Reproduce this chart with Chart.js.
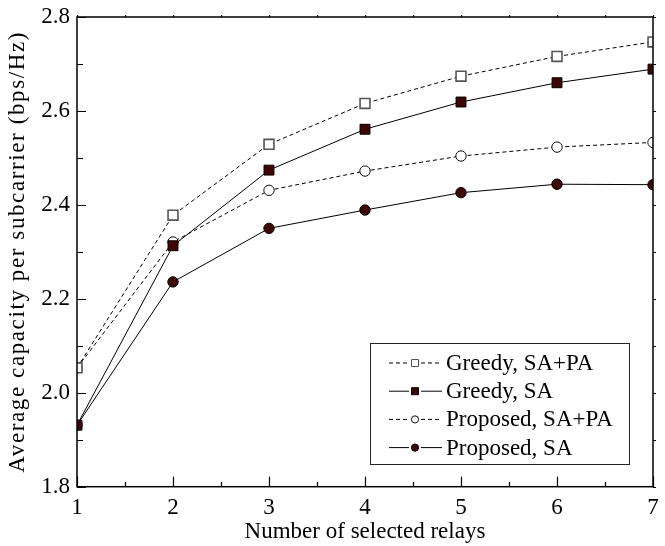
<!DOCTYPE html>
<html>
<head>
<meta charset="utf-8">
<script src="https://cdn.jsdelivr.net/npm/chart.js@4"></script>
<style>
    html, body { margin: 0; padding: 0; background: #fff; }
    #wrap { width: 665px; height: 546px; }
</style>
</head>
<body>
<div id="wrap"><canvas id="capChart" width="665" height="546"></canvas></div>
<script>
// Data
const relays = [1, 2, 3, 4, 5, 6, 7];
const greedySaPa = [2.053, 2.378, 2.529, 2.616, 2.674, 2.716, 2.747];
const greedySa = [1.931, 2.313, 2.474, 2.561, 2.619, 2.660, 2.689];
const proposedSaPa = [2.053, 2.321, 2.431, 2.472, 2.504, 2.523, 2.533];
const proposedSa = [1.931, 2.236, 2.350, 2.389, 2.426, 2.444, 2.443];
const seriesNames = ['Greedy, SA+PA', 'Greedy, SA', 'Proposed, SA+PA', 'Proposed, SA'];
const yTitle = 'Average capacity per subcarrier (bps/Hz)';

const serif = "'Liberation Serif', 'Times New Roman', serif";
const darkFill = '#3d0804';

function toPoints(ys) {
    return relays.map((x, i) => ({ x: x, y: ys[i] }));
}

// Inward ticks, frame, y title and the line+marker+line legend
const framePlugin = {
    id: 'frame',
    afterDraw(chart) {
        const ctx = chart.ctx;
        const { left, right, top, bottom } = chart.chartArea;
        const xs = chart.scales.x;
        const ys = chart.scales.y;
        ctx.save();
        ctx.strokeStyle = '#000';
        ctx.lineWidth = 1.5;
        ctx.strokeRect(left, top, right - left, bottom - top);

        ctx.lineWidth = 1.2;
        ctx.beginPath();
        for (let v = 1; v <= 7.001; v += 0.5) {
            const px = Math.round(xs.getPixelForValue(v)) + 0.5;
            const major = Math.abs(v - Math.round(v)) < 0.01;
            ctx.moveTo(px, bottom);
            ctx.lineTo(px, bottom - (major ? 10 : 5));
            ctx.moveTo(px, top);
            ctx.lineTo(px, top - 2);
        }
        for (let i = 0; i <= 10; i++) {
            const v = 1.8 + i * 0.1;
            const py = Math.round(ys.getPixelForValue(v)) + 0.5;
            const major = i % 2 === 0;
            ctx.moveTo(left, py);
            ctx.lineTo(left + (major ? 9 : 6), py);
            ctx.moveTo(right, py);
            ctx.lineTo(right + 3, py);
        }
        ctx.stroke();

        // y axis title, spaced out like the original
        ctx.save();
        ctx.translate(18, (top + bottom) / 2);
        ctx.rotate(-Math.PI / 2);
        ctx.font = '23px ' + serif;
        ctx.letterSpacing = '1.6px';
        ctx.fillStyle = '#000';
        ctx.textAlign = 'center';
        ctx.textBaseline = 'middle';
        ctx.fillText(yTitle, 0, 0);
        ctx.restore();

        // legend box
        const lx = 370, ly = 343, lw = 259, lh = 121;
        ctx.fillStyle = '#fff';
        ctx.fillRect(lx, ly, lw, lh);
        ctx.lineWidth = 1;
        ctx.strokeStyle = '#222';
        ctx.strokeRect(lx + 0.5, ly + 0.5, lw, lh);

        ctx.font = '23px ' + serif;
        ctx.textBaseline = 'middle';
        chart.data.datasets.forEach((ds, i) => {
            const cy = 363 + i * 28.2;
            ctx.strokeStyle = '#000';
            ctx.lineWidth = 1;
            ctx.setLineDash(ds.borderDash || []);
            ctx.beginPath();
            ctx.moveTo(389, cy);
            ctx.lineTo(409, cy);
            ctx.moveTo(421, cy);
            ctx.lineTo(442, cy);
            ctx.stroke();
            ctx.setLineDash([]);
            ctx.fillStyle = ds.pointBackgroundColor;
            ctx.strokeStyle = ds.pointBorderColor;
            ctx.lineWidth = 1;
            ctx.beginPath();
            if (ds.pointStyle === 'rect') {
                ctx.rect(411.5, cy - 3.5, 7, 7);
            } else {
                ctx.arc(415, cy, 3.6, 0, Math.PI * 2);
            }
            ctx.fill();
            ctx.stroke();
            ctx.fillStyle = '#000';
            ctx.fillText(seriesNames[i], 446, cy + 1);
        });
        ctx.restore();
    }
};

function makeSet(label, ys, dashed, filled, style) {
    return {
        label: label,
        data: toPoints(ys),
        borderColor: '#000',
        borderWidth: 1,
        borderDash: dashed ? [4, 3] : [],
        pointStyle: style,
        pointRadius: style === 'rect' ? 7 : 5.2,
        pointBackgroundColor: filled ? darkFill : '#fff',
        pointBorderColor: filled ? '#000' : (style === 'rect' ? '#555' : '#111'),
        pointBorderWidth: style === 'rect' && !filled ? 1.6 : 1,
        tension: 0,
        fill: false
    };
}

const ctx = document.getElementById('capChart');
new Chart(ctx.getContext('2d'), {
    type: 'line',
    data: {
        datasets: [
            makeSet(seriesNames[0], greedySaPa, true, false, 'rect'),
            makeSet(seriesNames[1], greedySa, false, true, 'rect'),
            makeSet(seriesNames[2], proposedSaPa, true, false, 'circle'),
            makeSet(seriesNames[3], proposedSa, false, true, 'circle')
        ]
    },
    options: {
        responsive: false,
        animation: false,
        layout: { padding: { top: 17, right: 12, left: 0, bottom: 0 } },
        plugins: {
            legend: { display: false },
            tooltip: { enabled: false }
        },
        scales: {
            x: {
                type: 'linear',
                min: 1,
                max: 7,
                grid: { display: false, drawTicks: false },
                border: { display: false },
                afterFit: (s) => { s.height = 59.3; s.paddingLeft = 0; s.paddingRight = 0; },
                ticks: {
                    stepSize: 1,
                    padding: 7,
                    color: '#000',
                    font: { family: serif, size: 23 }
                },
                title: {
                    display: true,
                    text: 'Number of selected relays',
                    color: '#000',
                    font: { family: serif, size: 23 },
                    padding: { top: 0, bottom: 0 }
                }
            },
            y: {
                min: 1.8,
                max: 2.8,
                grid: { display: false, drawTicks: false },
                border: { display: false },
                afterFit: (s) => { s.width = 77; s.paddingTop = 0; s.paddingBottom = 0; },
                ticks: {
                    stepSize: 0.2,
                    padding: 7,
                    color: '#000',
                    font: { family: serif, size: 23 },
                    callback: (v) => v.toFixed(1)
                }
            }
        }
    },
    plugins: [framePlugin]
});
</script>
</body>
</html>
